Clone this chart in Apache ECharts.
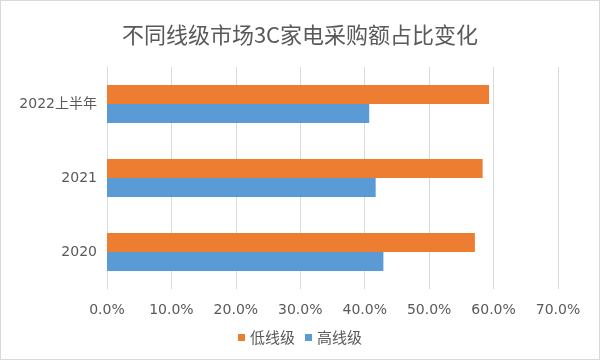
<!DOCTYPE html>
<html><head><meta charset="utf-8">
<script src="https://cdn.jsdelivr.net/npm/echarts@6/dist/echarts.min.js"></script>
<style>html,body{margin:0;padding:0;background:#fff}#c{width:600px;height:360px;box-sizing:border-box;border:1px solid #d9d9d9}</style>
</head><body><div id="c"></div>
<script>
const categories = ['2020', '2021', '2022上半年'];
const lowTier = [57.1, 58.3, 59.3];
const highTier = [42.9, 41.7, 40.7];
const seriesNames = ['低线级', '高线级'];
const xTicks = [0, 10, 20, 30, 40, 50, 60, 70];

const chart = echarts.init(document.getElementById('c'));
const font = '"DejaVu Sans", "Noto Sans CJK SC", sans-serif';
const cjk = '"Noto Sans CJK SC", "Noto Sans", sans-serif';
chart.setOption({
  animation: false,
  textStyle: { fontFamily: font },
  title: { text: '不同线级市场3C家电采购额占比变化', left: 'center', top: 18,
    textStyle: { fontSize: 22, fontWeight: 'normal', color: '#595959', fontFamily: cjk } },
  legend: { data: seriesNames, bottom: 9, itemWidth: 7, itemHeight: 7, itemGap: 10, icon: 'rect',
    textStyle: { fontSize: 15, color: '#595959', fontFamily: cjk } },
  grid: { left: 106, right: 41, top: 66, height: 222 },
  xAxis: { type: 'value', min: xTicks[0], max: xTicks[xTicks.length - 1], interval: 10,
    axisLine: { show: false }, axisTick: { show: false },
    splitLine: { lineStyle: { color: '#d9d9d9', width: 1 } },
    axisLabel: { formatter: v => v.toFixed(1) + '%', color: '#595959', fontSize: 14, margin: 14, fontFamily: font } },
  yAxis: { type: 'category', data: categories,
    axisLine: { show: true, lineStyle: { color: '#d9d9d9' } }, axisTick: { show: false },
    axisLabel: { color: '#595959', fontSize: 14, margin: 10, fontFamily: font } },
  series: [
    { name: seriesNames[0], type: 'bar', data: lowTier, barWidth: 19, barGap: '0%',
      itemStyle: { color: '#ED7D31' } },
    { name: seriesNames[1], type: 'bar', data: highTier, barWidth: 19, barGap: '0%',
      itemStyle: { color: '#5B9BD5' } }
  ]
});
</script></body></html>
